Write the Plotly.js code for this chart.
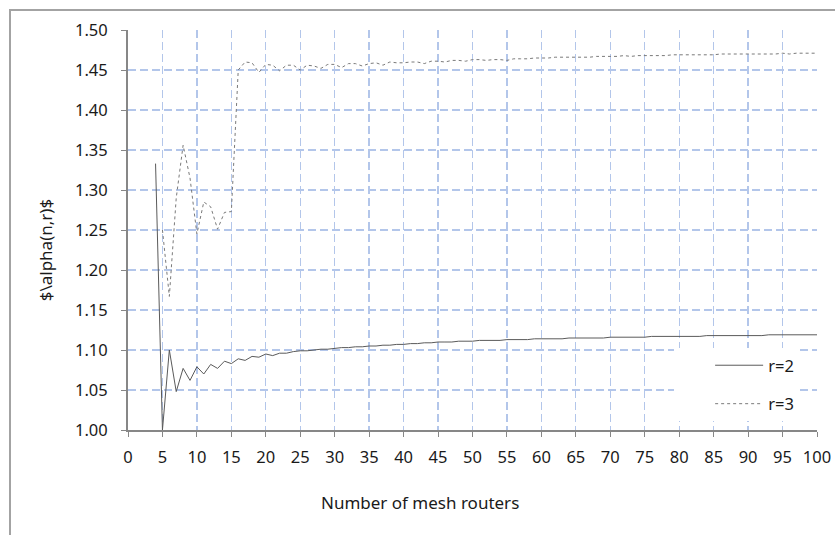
<!DOCTYPE html>
<html>
<head>
<meta charset="utf-8">
<script src="https://cdn.plot.ly/plotly-3.0.1.min.js"></script>
<style>
  html, body { margin: 0; padding: 0; background: #fff; }
  #wrap { position: relative; width: 835px; height: 535px; overflow: hidden; }
  #chart { position: absolute; left: 0; top: 0; width: 835px; height: 535px; }
  #frame { position: absolute; left: 9px; top: 9px; width: 900px; height: 600px;
           border-left: 2px solid #a3a3a3; border-top: 2px solid #a3a3a3; pointer-events: none; }
</style>
</head>
<body>
<div id="wrap">
  <div id="chart"></div>
  <div id="frame"></div>
</div>
<script>
// ---- data ----
const nR2 = [4,5,6,7,8,9,10,11,12,13,14,15,16,17,18,19,20,21,22,23,24,25,26,27,28,29,30,
  31,32,33,34,35,36,37,38,39,40,41,42,43,44,45,46,47,48,49,50,51,52,53,54,55,56,57,58,59,60,
  61,62,63,64,65,66,67,68,69,70,71,72,73,74,75,76,77,78,79,80,81,82,83,84,85,86,87,88,89,90,
  91,92,93,94,95,96,97,98,99,100];
const alphaR2 = [1.333,1.000,1.100,1.048,1.077,1.062,1.079,1.070,1.082,1.077,1.086,1.083,1.089,1.087,
  1.092,1.091,1.095,1.093,1.096,1.096,1.098,1.099,1.099,1.100,1.101,1.101,1.102,
  1.103,1.103,1.104,1.104,1.105,1.105,1.106,1.106,1.107,1.107,1.108,1.108,1.109,1.109,1.110,
  1.110,1.110,1.111,1.111,1.111,1.112,1.112,1.112,1.112,1.113,1.113,1.113,1.113,1.114,1.114,
  1.114,1.114,1.114,1.115,1.115,1.115,1.115,1.115,1.115,1.116,1.116,1.116,1.116,1.116,1.116,
  1.117,1.117,1.117,1.117,1.117,1.117,1.117,1.117,1.118,1.118,1.118,1.118,1.118,1.118,1.118,
  1.118,1.118,1.119,1.119,1.119,1.119,1.119,1.119,1.119,1.119];

const nR3 = [5,6,7,8,9,10,11,12,13,14,15,16,17,18,19,20,21,22,23,24,25,26,27,28,29,30,
  31,32,33,34,35,36,37,38,39,40,41,42,43,44,45,46,47,48,49,50,51,52,53,54,55,56,57,58,59,60,
  61,62,63,64,65,66,67,68,69,70,71,72,73,74,75,76,77,78,79,80,81,82,83,84,85,86,87,88,89,90,
  91,92,93,94,95,96,97,98,99,100];
const alphaR3 = [1.250,1.167,1.290,1.356,1.315,1.245,1.285,1.279,1.251,1.272,1.273,1.450,1.460,1.459,
  1.447,1.457,1.456,1.449,1.456,1.456,1.450,1.456,1.455,1.452,1.457,1.457,
  1.453,1.458,1.458,1.455,1.458,1.459,1.456,1.460,1.459,1.459,1.460,1.460,1.458,1.461,1.461,
  1.460,1.462,1.462,1.461,1.463,1.463,1.462,1.463,1.463,1.462,1.464,1.464,1.464,1.465,1.465,
  1.465,1.466,1.466,1.466,1.466,1.466,1.466,1.467,1.467,1.467,1.467,1.468,1.467,1.468,1.468,
  1.468,1.468,1.468,1.469,1.469,1.469,1.469,1.469,1.469,1.469,1.470,1.470,1.470,1.470,1.470,
  1.470,1.470,1.470,1.470,1.471,1.470,1.471,1.471,1.471,1.471];

const seriesNames = ['r=2', 'r=3'];
const xTitle = 'Number of mesh routers';
const yTitle = '$\\alpha(n,r)$';

// ---- chart ----
const FONT = 'Noto Sans, sans-serif';
const gridColor = '#b3c6ea';
const axisColor = '#878787';

const traces = [
  { x: nR2, y: alphaR2, name: seriesNames[0], type: 'scatter', mode: 'lines',
    line: { color: '#5a5a5a', width: 1 }, legendgroup: 'a' },
  { x: nR3, y: alphaR3, name: seriesNames[1], type: 'scatter', mode: 'lines',
    line: { color: '#7a7a7a', width: 1, dash: 'dot' }, legendgroup: 'b' }
];

const layout = {
  width: 835, height: 535,
  margin: { l: 128, r: 18, t: 30, b: 105 },
  paper_bgcolor: 'rgba(0,0,0,0)',
  plot_bgcolor: '#ffffff',
  font: { family: FONT, size: 16.5, color: '#1a1a1a' },
  showlegend: true,
  legend: {
    x: 0.793, y: 0.205, xanchor: 'left', yanchor: 'top',
    bgcolor: '#ffffff', borderwidth: 0,
    font: { family: FONT, size: 16.5, color: '#1a1a1a' },
    title: { text: '\u00a0\u00a0\u00a0\u00a0\u00a0\u00a0', side: 'left', font: { family: FONT, size: 16.5 } },
    traceorder: 'grouped', tracegroupgap: 14, itemwidth: 48
  },
  xaxis: {
    range: [0, 100], dtick: 5, tick0: 0,
    showline: true, linecolor: axisColor, linewidth: 2,
    ticks: 'outside', ticklen: 5, tickcolor: axisColor, tickwidth: 1,
    showgrid: true, gridcolor: gridColor, gridwidth: 1.3, griddash: '8px,4px',
    zeroline: false, ticklabelstandoff: 6,
    tickfont: { family: FONT, size: 16.5, color: '#1a1a1a' }
  },
  yaxis: {
    range: [1.0, 1.5], dtick: 0.05, tick0: 1.0, tickformat: '.2f',
    showline: true, linecolor: axisColor, linewidth: 2,
    ticks: 'outside', ticklen: 5, tickcolor: axisColor, tickwidth: 1,
    showgrid: true, gridcolor: gridColor, gridwidth: 1.3, griddash: '8px,4px',
    zeroline: false, ticklabelstandoff: 10,
    tickfont: { family: FONT, size: 16.5, color: '#1a1a1a' }
  },
  annotations: [
    { text: xTitle, xref: 'paper', yref: 'paper', x: 0.424, y: -0.18,
      xanchor: 'center', yanchor: 'middle', showarrow: false,
      font: { family: FONT, size: 17, color: '#1a1a1a' } },
    { text: yTitle, xref: 'paper', yref: 'paper', x: -0.12, y: 0.45,
      xanchor: 'center', yanchor: 'middle', textangle: -90, showarrow: false,
      font: { family: FONT, size: 17, color: '#1a1a1a' } }
  ]
};

Plotly.newPlot('chart', traces, layout, { staticPlot: true, displayModeBar: false });
</script>
</body>
</html>
